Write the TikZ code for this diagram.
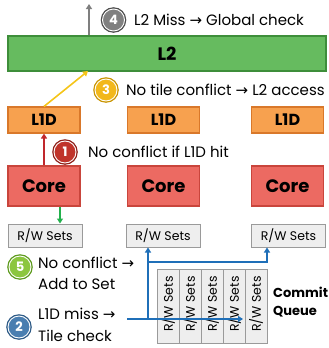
\documentclass[tikz,border=0pt]{standalone}
\usepackage{fontspec}
\setmainfont{Poppins}
\newfontfamily\arr{DejaVu Sans}
\usetikzlibrary{arrows.meta}
\definecolor{lgreen}{HTML}{66BB5F}
\definecolor{dgreen}{HTML}{3E8E3A}
\definecolor{lorange}{HTML}{F7A14F}
\definecolor{dorange}{HTML}{D9782A}
\definecolor{lred}{HTML}{EC6A62}
\definecolor{dred}{HTML}{C9453C}
\definecolor{lgray}{HTML}{EEEEEE}
\definecolor{mgray}{HTML}{9A9A9A}
\definecolor{agray}{HTML}{7F7F7F}
\definecolor{ayellow}{HTML}{F5C518}
\definecolor{ared}{HTML}{C0282D}
\definecolor{agreen}{HTML}{22B14C}
\definecolor{ablue}{HTML}{1F6FB8}
\definecolor{c4}{HTML}{808080}\definecolor{c4d}{HTML}{4D4D4D}
\definecolor{c3}{HTML}{F2B81C}\definecolor{c3d}{HTML}{C99400}
\definecolor{c1}{HTML}{C0342B}\definecolor{c1d}{HTML}{8E1F18}
\definecolor{c5}{HTML}{8CC63F}\definecolor{c5d}{HTML}{5E9A1E}
\definecolor{c2}{HTML}{4A7EB0}\definecolor{c2d}{HTML}{2D5A86}
\tikzset{
  unitbox/.style={draw, line width=1.1pt, inner sep=0pt, font=\bfseries},
  l2box/.style={unitbox, fill=lgreen, draw=dgreen, minimum width=318pt, minimum height=35pt, font=\bfseries\fontsize{18}{18}\selectfont},
  l1box/.style={unitbox, fill=lorange, draw=dorange, minimum width=72pt, minimum height=26pt, font=\bfseries\fontsize{16}{16}\selectfont},
  corebox/.style={unitbox, fill=lred, draw=dred, minimum width=72pt, minimum height=40pt, font=\bfseries\fontsize{18}{18}\selectfont},
  rwbox/.style={draw=mgray, fill=lgray, line width=1pt, minimum width=74pt, minimum height=23pt, inner sep=0pt, font=\fontsize{12.5}{12.5}\selectfont},
  qcell/.style={draw=mgray, fill=lgray, line width=1pt, minimum width=22pt, minimum height=74pt, inner sep=0pt},
  qtext/.style={rotate=90, font=\fontsize{12.5}{12.5}\selectfont, inner sep=0pt},
  numc/.style={circle, draw=white, line width=0.9pt, minimum size=22pt, inner sep=0pt, text=white, font=\bfseries\fontsize{13}{13}\selectfont},
  lbl/.style={anchor=west, inner sep=0pt, font=\fontsize{15}{15}\selectfont},
  conn/.style={line width=2pt, -{Triangle[width=6pt,length=5pt]}},
}
\newcommand{\numcirc}[5]{%
  \fill[#4] (#2) circle (12.8pt);
  \node[numc, fill=#3] (#1) at (#2) {#5};}
\begin{document}
\begin{tikzpicture}[x=1pt,y=-1pt]
\useasboundingbox (0,0) rectangle (329,348);
% L2
\node[l2box] (l2) at (167,53.5) {L2};
% L1D
\node[l1box] (l1a) at (44,120) {L1D};
\node[l1box] (l1b) at (163.5,120) {L1D};
\node[l1box] (l1c) at (287.5,120) {L1D};
% Cores
\node[corebox] (ca) at (44,186) {Core};
\node[corebox] (cb) at (163.5,186) {Core};
\node[corebox] (cc) at (287.5,186) {Core};
% RW sets
\node[rwbox] (rwa) at (45,235.5) {R/W Sets};
\node[rwbox] (rwb) at (163,235.5) {R/W Sets};
\node[rwbox] (rwc) at (288.5,235.5) {R/W Sets};
% commit queue
\foreach \i/\x in {1/168,2/190,3/212,4/234,5/256}{
  \node[qcell] (q\i) at (\x,306) {};
  \node[qtext] (qt\i) at (\x,304) {R/W Sets};
}
\node[anchor=west, inner sep=0pt, font=\bfseries\fontsize{13}{13}\selectfont] (cq1) at (273,292) {Commit};
\node[anchor=west, inner sep=0pt, font=\bfseries\fontsize{13}{13}\selectfont] (cq2) at (273,312) {Queue};
% step labels
\numcirc{n4}{113.5,20}{c4}{c4d}{4}
\node[lbl] (t4) at (134,20) {L2 Miss {\arr →} Global check};
\numcirc{n3}{106,90}{c3}{c3d}{3}
\node[lbl] (t3) at (126,90) {No tile conflict {\arr →} L2 access};
\numcirc{n1}{65,152}{c1}{c1d}{1}
\node[lbl] (t1) at (88,152) {No conflict if L1D hit};
\numcirc{n5}{20,267}{c5}{c5d}{5}
\node[lbl] (t5a) at (38,263) {No conflict {\arr →}};
\node[lbl] (t5b) at (38,284) {Add to Set};
\numcirc{n2}{19,327}{c2}{c2d}{2}
\node[lbl] (t2a) at (38,314) {L1D miss {\arr →}};
\node[lbl] (t2b) at (38,336) {Tile check};
% connectors
\coordinate (gtop) at (89,4);
\draw[conn, agray] (l2.north -| gtop) -- (gtop);
\draw[conn, ayellow, line width=1.6pt] (l1a.north) -- (88,71);
\draw[conn, ared] (ca.north) -- (l1a.south);
\coordinate (gx) at (60,0);
\draw[conn, agreen] (ca.south -| gx) -- (rwa.north -| gx);
\coordinate (bs) at (127,319);
\coordinate (be) at (243,319);
\coordinate (bj) at (148,319);
\coordinate (bk) at (148,262);
\coordinate (bl) at (267,262);
\draw[conn, ablue] (bs) -- (be);
\draw[conn, ablue] (bj) -- (rwb.south -| bj);
\draw[conn, ablue] (bk) -- (bl) -- (rwc.south -| bl);
\end{tikzpicture}
\end{document}
